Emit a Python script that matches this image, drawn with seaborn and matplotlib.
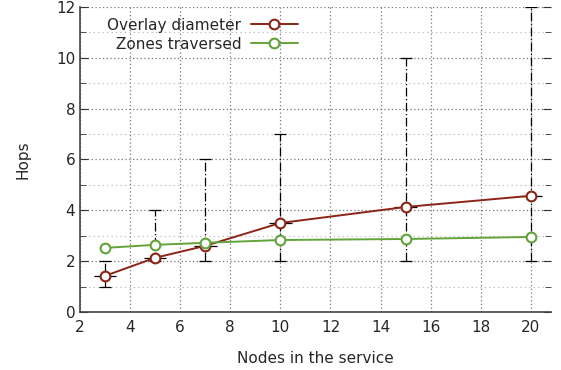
import pandas as pd
import numpy as np
import matplotlib.pyplot as plt
import seaborn as sns
from matplotlib.ticker import MultipleLocator

# values
nodes = [3, 5, 7, 10, 15, 20]
overlay_diameter = [1.42, 2.13, 2.6, 3.5, 4.13, 4.57]
zones_traversed = [2.52, 2.64, 2.72, 2.83, 2.87, 2.95]
diam_min = [1, 2, 2, 2, 2, 2]
diam_max = [2, 4, 6, 7, 10, 12]

df = pd.DataFrame({
    'Nodes': nodes * 2,
    'Hops': overlay_diameter + zones_traversed,
    'Series': ['Overlay diameter'] * len(nodes) + ['Zones traversed'] * len(nodes),
})

sns.set_style('white')
plt.rcParams['font.family'] = ['DejaVu Sans']
plt.rcParams['font.size'] = 11

fig = plt.figure(figsize=(5.61, 3.70), dpi=100)
ax = fig.add_axes([0.1426, 0.157, 0.8394, 0.824])

# min/max whiskers for the overlay diameter
lower = np.array(overlay_diameter) - np.array(diam_min)
upper = np.array(diam_max) - np.array(overlay_diameter)
eb = ax.errorbar(nodes, overlay_diameter, yerr=[lower, upper], fmt='none',
                 ecolor='black', elinewidth=0.9, capsize=4, capthick=0.9, zorder=2)
for col in eb.lines[2]:
    col.set_linestyle((0, (7, 2, 1, 2)))
ax.errorbar(nodes, overlay_diameter, xerr=0.45, fmt='none', ecolor='black',
            elinewidth=0.9, zorder=2)

n_before = len(ax.lines)
palette = {'Overlay diameter': '#8c2416', 'Zones traversed': '#62a33a'}
sns.lineplot(data=df, x='Nodes', y='Hops', hue='Series', palette=palette,
             marker='o', markersize=7, markerfacecolor='white', markeredgewidth=1.5,
             linewidth=1.4, ax=ax, zorder=3)
for line in ax.lines[n_before:]:
    line.set_markeredgecolor(line.get_color())

ax.set_xlim(2, 20.8)
ax.set_ylim(0, 12)
ax.xaxis.set_major_locator(MultipleLocator(2))
ax.yaxis.set_major_locator(MultipleLocator(2))
ax.yaxis.set_minor_locator(MultipleLocator(1))
ax.grid(which='major', color='#777777', linestyle=(0, (1, 2)), linewidth=0.9)
ax.grid(which='minor', axis='y', color='#b0b0b0', linestyle=(0, (1, 3)), linewidth=0.8)
ax.set_axisbelow(True)

for s in ['top', 'right']:
    ax.spines[s].set_visible(False)
for s in ['left', 'bottom']:
    ax.spines[s].set_color('#444444')
    ax.spines[s].set_linewidth(1.2)
ax.tick_params(axis='y', which='both', direction='in', left=True, right=True, color='#333333')
ax.tick_params(axis='y', which='major', length=6)
ax.tick_params(axis='y', which='minor', length=4)
ax.tick_params(axis='x', direction='in', length=0, pad=6)

ax.set_xlabel('Nodes in the service', labelpad=11)
ax.set_ylabel('Hops', labelpad=18)

handles, labels = ax.get_legend_handles_labels()
for h in handles:
    h.set_markeredgecolor(h.get_color())
ax.legend(handles, labels, loc='upper left', bbox_to_anchor=(0.029, 1.01), markerfirst=False,
          frameon=False, handlelength=3.1, handletextpad=0.6, labelspacing=0.25, fontsize=11)

fig.savefig('out.png', dpi=100)
